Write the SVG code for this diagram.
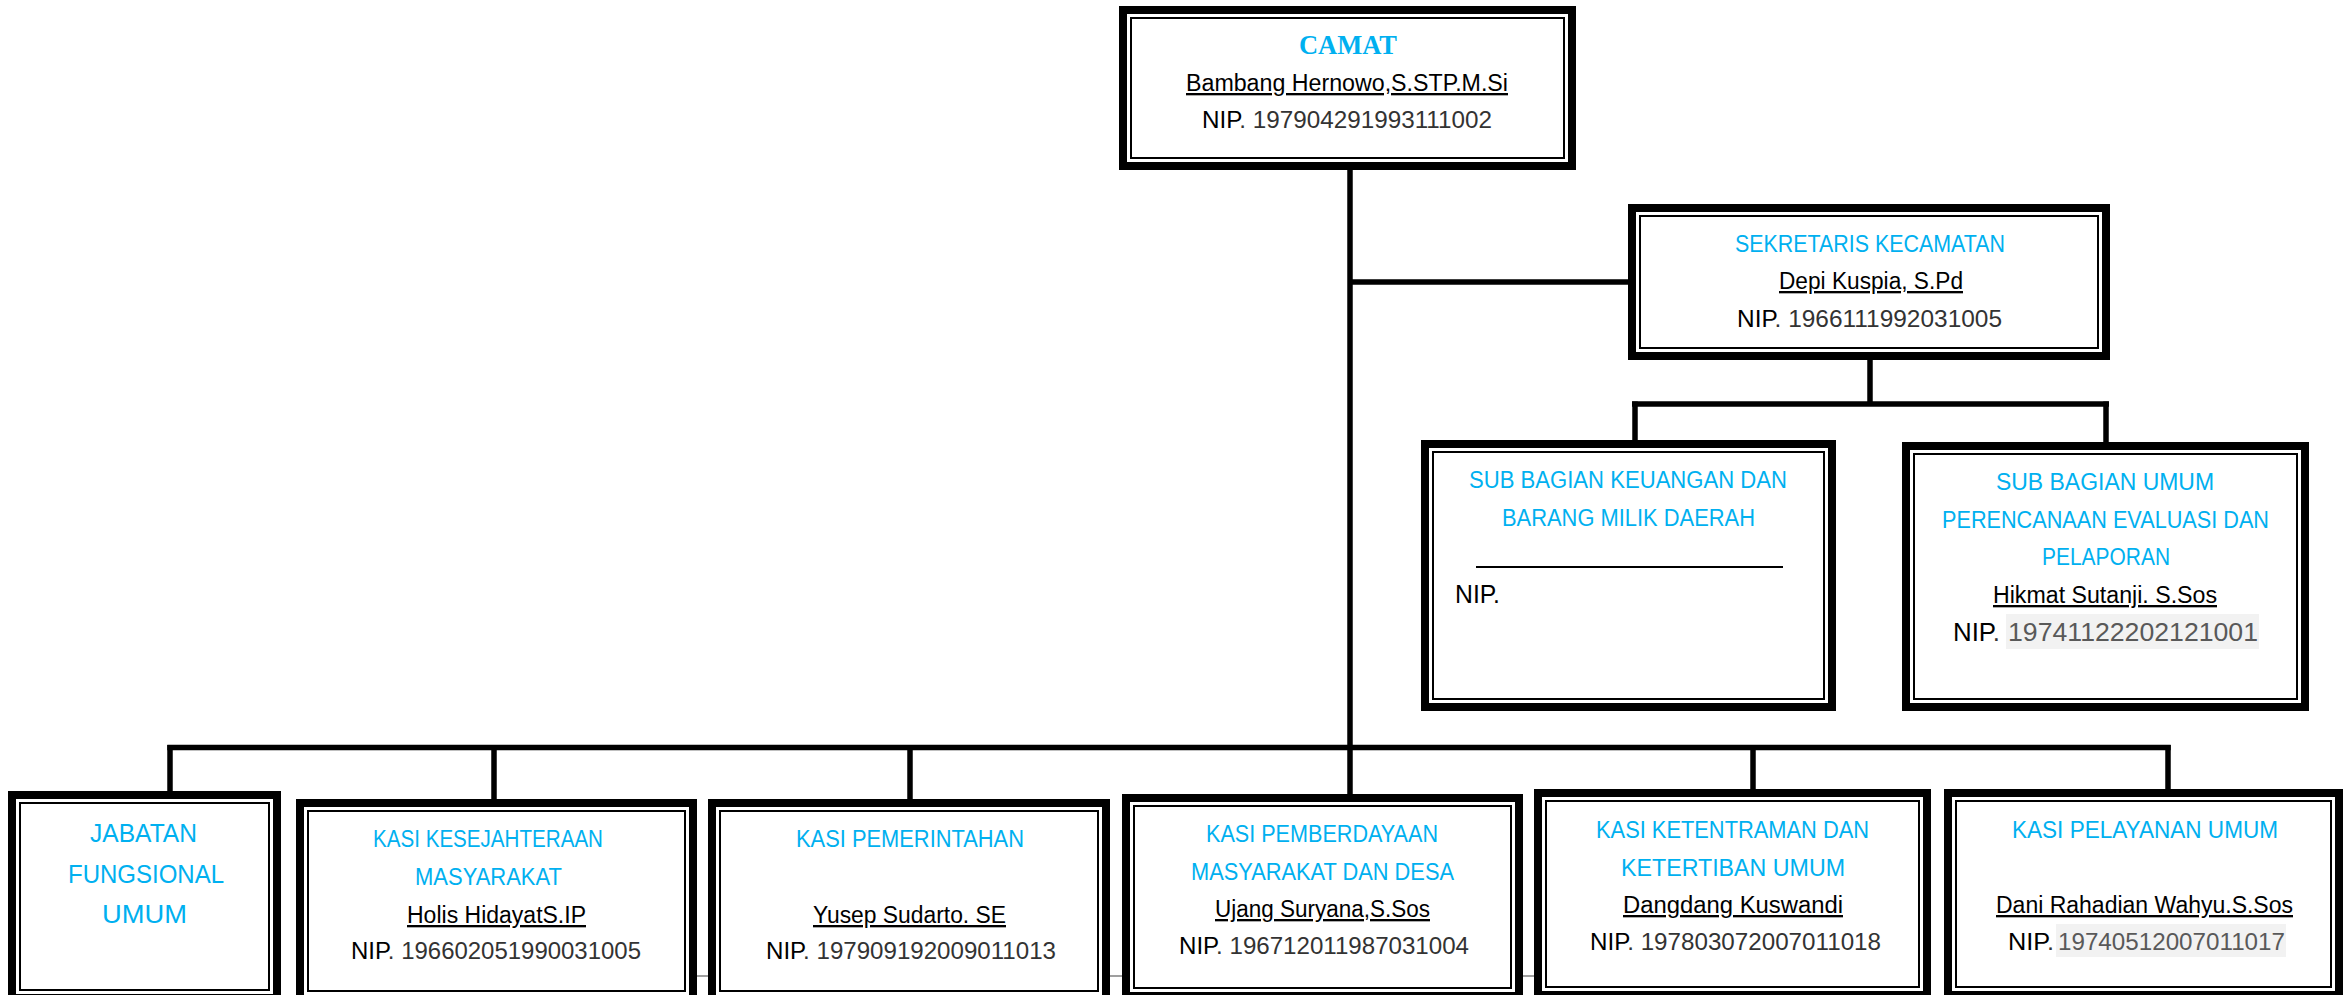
<svg xmlns="http://www.w3.org/2000/svg" width="2346" height="995" viewBox="0 0 2346 995">
<style>
.t{font-family:"Liberation Sans",Arial,sans-serif;font-size:23.3px;fill:#000}
.b{font-size:25.5px}
.c{fill:#00B0F0}
.u{text-decoration:underline}
.g{fill:#333}
.h{fill:#595959}
.hl{fill:#f2f2f2}
.ob{fill:#fff;stroke:#000;stroke-width:8}
.ib{fill:none;stroke:#000;stroke-width:2}
.conn line{stroke:#000;stroke-width:5.5}
</style>
<rect width="2346" height="995" fill="#fff"/>
<line x1="690" y1="976" x2="1540" y2="976" stroke="#7f7f7f" stroke-width="1.5"/>
<g class="conn" id="connectors">
<line x1="1350" y1="165" x2="1350" y2="800"/>
<line x1="1350" y1="282" x2="1632" y2="282"/>
<line x1="1870" y1="356" x2="1870" y2="404"/>
<line x1="1632" y1="404" x2="2109" y2="404"/>
<line x1="1635" y1="401.5" x2="1635" y2="445"/>
<line x1="2106" y1="401.5" x2="2106" y2="447"/>
<line x1="167.3" y1="747.5" x2="2170.7" y2="747.5"/>
<line x1="170" y1="745" x2="170" y2="796"/>
<line x1="494" y1="745" x2="494" y2="804"/>
<line x1="910" y1="745" x2="910" y2="804"/>
<line x1="1753" y1="745" x2="1753" y2="794"/>
<line x1="2168" y1="745" x2="2168" y2="794"/>
</g>
<g id="camat">
<rect class="ob" x="1123" y="10" width="449" height="156"/>
<rect class="ib" x="1131" y="18" width="433" height="140"/>
<text x="1299" y="54" textLength="98" lengthAdjust="spacingAndGlyphs" style="font-family:'Liberation Serif','Times New Roman',serif;font-weight:bold;font-size:27px;fill:#00B0F0">CAMAT</text>
<text class="t u" x="1186" y="91" textLength="322" lengthAdjust="spacingAndGlyphs">Bambang Hernowo,S.STP.M.Si</text>
<text class="t" x="1202" y="128" textLength="290" lengthAdjust="spacingAndGlyphs">NIP<tspan class="g">. 197904291993111002</tspan></text>
</g>
<g id="sekretaris">
<rect class="ob" x="1632" y="208" width="474" height="148"/>
<rect class="ib" x="1640" y="216" width="458" height="132"/>
<text class="t c" x="1735" y="252" textLength="270" lengthAdjust="spacingAndGlyphs">SEKRETARIS KECAMATAN</text>
<text class="t u" x="1779" y="289" textLength="184" lengthAdjust="spacingAndGlyphs">Depi Kuspia, S.Pd</text>
<text class="t" x="1737" y="327" textLength="265" lengthAdjust="spacingAndGlyphs">NIP<tspan class="g">. 1966111992031005</tspan></text>
</g>
<g id="subbag-keuangan">
<rect class="ob" x="1425" y="444" width="407" height="263"/>
<rect class="ib" x="1433" y="452" width="391" height="247"/>
<text class="t c" x="1469" y="488" textLength="318" lengthAdjust="spacingAndGlyphs">SUB BAGIAN KEUANGAN DAN</text>
<text class="t c" x="1502" y="526" textLength="253" lengthAdjust="spacingAndGlyphs">BARANG MILIK DAERAH</text>
<line x1="1476" y1="567" x2="1783" y2="567" stroke="#000" stroke-width="2"/>
<text class="t b" x="1455" y="603" textLength="45" lengthAdjust="spacingAndGlyphs">NIP.</text>
</g>
<g id="subbag-umum">
<rect class="ob" x="1906" y="446" width="399" height="261"/>
<rect class="ib" x="1914" y="454" width="383" height="245"/>
<text class="t c" x="1996" y="490" textLength="218" lengthAdjust="spacingAndGlyphs">SUB BAGIAN UMUM</text>
<text class="t c" x="1942" y="528" textLength="327" lengthAdjust="spacingAndGlyphs">PERENCANAAN EVALUASI DAN</text>
<text class="t c" x="2042" y="565" textLength="128" lengthAdjust="spacingAndGlyphs">PELAPORAN</text>
<text class="t u" x="1993" y="603" textLength="224" lengthAdjust="spacingAndGlyphs">Hikmat Sutanji. S.Sos</text>
<rect class="hl" x="2006" y="614" width="253" height="35"/>
<text class="t b" x="1953" y="641" textLength="47" lengthAdjust="spacingAndGlyphs">NIP<tspan class="g">.</tspan></text>
<text class="t b h" x="2008" y="641" textLength="250" lengthAdjust="spacingAndGlyphs">19741122202121001</text>
</g>
<g id="jabatan-fungsional">
<rect class="ob" x="12" y="795" width="265" height="203"/>
<rect class="ib" x="20" y="803" width="249" height="187"/>
<text class="t b c" x="90" y="842" textLength="107" lengthAdjust="spacingAndGlyphs">JABATAN</text>
<text class="t b c" x="68" y="883" textLength="156" lengthAdjust="spacingAndGlyphs">FUNGSIONAL</text>
<text class="t b c" x="102" y="923" textLength="85" lengthAdjust="spacingAndGlyphs">UMUM</text>
</g>
<g id="kasi-kesejahteraan">
<rect class="ob" x="300" y="803" width="393" height="196"/>
<rect class="ib" x="308" y="811" width="377" height="180"/>
<text class="t c" x="373" y="847" textLength="230" lengthAdjust="spacingAndGlyphs">KASI KESEJAHTERAAN</text>
<text class="t c" x="415" y="885" textLength="147" lengthAdjust="spacingAndGlyphs">MASYARAKAT</text>
<text class="t u" x="407" y="923" textLength="179" lengthAdjust="spacingAndGlyphs">Holis HidayatS.IP</text>
<text class="t" x="351" y="959" textLength="290" lengthAdjust="spacingAndGlyphs">NIP<tspan class="g">. 196602051990031005</tspan></text>
</g>
<g id="kasi-pemerintahan">
<rect class="ob" x="712" y="803" width="394" height="196"/>
<rect class="ib" x="720" y="811" width="378" height="180"/>
<text class="t c" x="796" y="847" textLength="228" lengthAdjust="spacingAndGlyphs">KASI PEMERINTAHAN</text>
<text class="t u" x="813" y="923" textLength="193" lengthAdjust="spacingAndGlyphs">Yusep Sudarto. SE</text>
<text class="t" x="766" y="959" textLength="290" lengthAdjust="spacingAndGlyphs">NIP<tspan class="g">. 197909192009011013</tspan></text>
</g>
<g id="kasi-pemberdayaan">
<rect class="ob" x="1126" y="798" width="393" height="198"/>
<rect class="ib" x="1134" y="806" width="377" height="182"/>
<text class="t c" x="1206" y="842" textLength="232" lengthAdjust="spacingAndGlyphs">KASI PEMBERDAYAAN</text>
<text class="t c" x="1191" y="880" textLength="263" lengthAdjust="spacingAndGlyphs">MASYARAKAT DAN DESA</text>
<text class="t u" x="1215" y="917" textLength="215" lengthAdjust="spacingAndGlyphs">Ujang Suryana,S.Sos</text>
<text class="t" x="1179" y="954" textLength="290" lengthAdjust="spacingAndGlyphs">NIP<tspan class="g">. 196712011987031004</tspan></text>
</g>
<g id="kasi-ketentraman">
<rect class="ob" x="1538" y="793" width="389" height="202"/>
<rect class="ib" x="1546" y="801" width="373" height="186"/>
<text class="t c" x="1596" y="838" textLength="273" lengthAdjust="spacingAndGlyphs">KASI KETENTRAMAN DAN</text>
<text class="t c" x="1621" y="876" textLength="224" lengthAdjust="spacingAndGlyphs">KETERTIBAN UMUM</text>
<text class="t u" x="1623" y="913" textLength="220" lengthAdjust="spacingAndGlyphs">Dangdang Kuswandi</text>
<text class="t" x="1590" y="950" textLength="291" lengthAdjust="spacingAndGlyphs">NIP<tspan class="g">. 197803072007011018</tspan></text>
</g>
<g id="kasi-pelayanan">
<rect class="ob" x="1948" y="793" width="391" height="202"/>
<rect class="ib" x="1956" y="801" width="375" height="186"/>
<text class="t c" x="2012" y="838" textLength="266" lengthAdjust="spacingAndGlyphs">KASI PELAYANAN UMUM</text>
<text class="t u" x="1996" y="913" textLength="297" lengthAdjust="spacingAndGlyphs">Dani Rahadian Wahyu.S.Sos</text>
<rect class="hl" x="2056" y="924" width="230" height="33"/>
<text class="t" x="2008" y="950" textLength="46" lengthAdjust="spacingAndGlyphs">NIP<tspan class="g">.</tspan></text>
<text class="t h" x="2058" y="950" textLength="227" lengthAdjust="spacingAndGlyphs">19740512007011017</text>
</g>
</svg>
